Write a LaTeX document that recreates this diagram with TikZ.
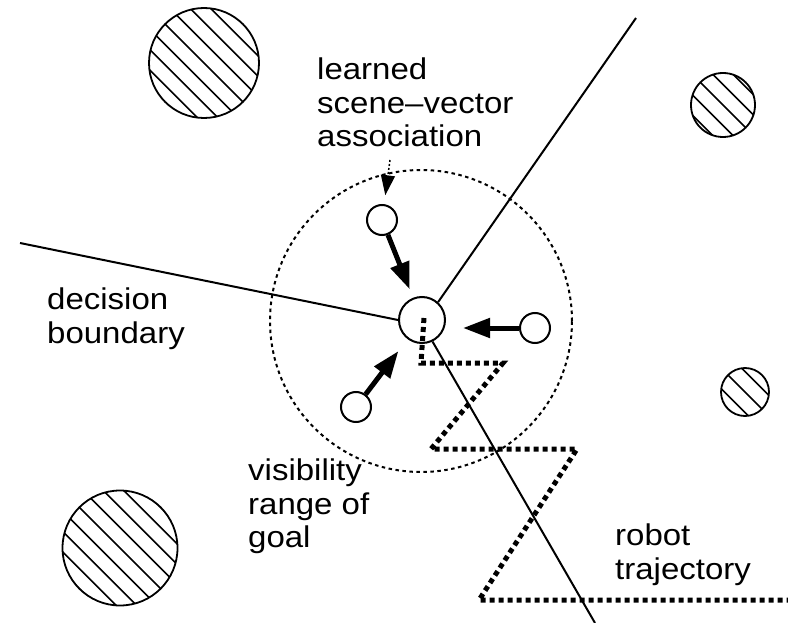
\documentclass[tikz,border=0pt]{standalone}
\usepackage{fontspec}
\setmainfont{Liberation Sans}[FakeStretch=1.1]
\usetikzlibrary{arrows.meta}
\begin{document}
\begin{tikzpicture}[x=1pt,y=-1pt,
  lbl/.style={anchor=north west, inner sep=0pt, align=left, font=\fontsize{30}{33.5}\selectfont},
  obstacle/.style={circle, draw, line width=1.8pt, inner sep=0pt, minimum size=#1,
    path picture={\foreach \k in {-10,...,10}
      \draw[line width=1.6pt] ([shift={(\k*10.2-100,-\k*10.2-100)}]path picture bounding box.center) -- ++(200,200);}},
  goalnode/.style={circle, draw, line width=2pt, minimum size=46pt, inner sep=0pt},
  vecnode/.style={circle, draw, line width=2pt, minimum size=30pt, inner sep=0pt},
  rangecircle/.style={circle, draw, line width=2pt, dash pattern=on 3.5pt off 3.5pt, minimum size=302pt, inner sep=0pt},
  bound/.style={line width=2pt},
  vecarrow/.style={line width=5pt, -{Triangle[length=27pt,width=19pt]}},
  lblarrow/.style={line width=1.5pt, dash pattern=on 2pt off 2pt, -{Triangle[length=20pt,width=14pt]}},
  traj/.style={line width=5pt, dash pattern=on 5pt off 4pt}
]
\useasboundingbox (0,0) rectangle (788,623);

% visibility range
\node[rangecircle] (range) at (421,321) {};

% obstacles
\node[obstacle=110pt] (o1) at (204,63) {};
\node[obstacle=64pt] (o2) at (723,105) {};
\node[obstacle=48pt] (o3) at (745,392) {};
\node[obstacle=115pt] (o4) at (120,548) {};

% goal and scene vectors
\node[goalnode] (goal) at (422,320) {};
\node[vecnode] (v1) at (382,220) {};
\node[vecnode] (v2) at (535,328) {};
\node[vecnode] (v3) at (356,407) {};

% decision boundaries
\coordinate (bl) at (20,243);
\coordinate (bt) at (636,18);
\coordinate (bb) at (595,623);
\draw[bound] (bl) -- (goal.180);
\draw[bound] (goal.48) -- (bt);
\draw[bound] (goal.-64) -- (bb);

% robot trajectory
\coordinate (t0) at (424,318);
\coordinate (t1) at (421,363);
\coordinate (t2) at (503,363);
\coordinate (t3) at (431,449);
\coordinate (t4) at (577,449);
\coordinate (t5) at (479,600);
\coordinate (t6) at (788,600);
\draw[traj] (t0) -- (t1) -- (t2) -- (t3) -- (t4) -- (t5) -- (t6);

% scene-vector arrows
\draw[vecarrow, shorten >=9pt] (v1) -- (goal);
\draw[vecarrow, shorten >=17pt] (v2) -- (goal.east |- v2);
\draw[vecarrow, shorten >=15pt] (v3) -- (goal);

% labels
\node[lbl] (assoc) at (317,58) {learned\\scene–vector\\association};
\node[lbl] (dec) at (47,288) {decision\\boundary};
\node[lbl] (vis) at (248,459) {visibility\\range of\\goal};
\node[lbl] (rob) at (615,524) {robot\\trajectory};

\coordinate (la) at (390,160);
\draw[lblarrow, shorten >=9pt] (la) -- (v1);
\end{tikzpicture}
\end{document}
